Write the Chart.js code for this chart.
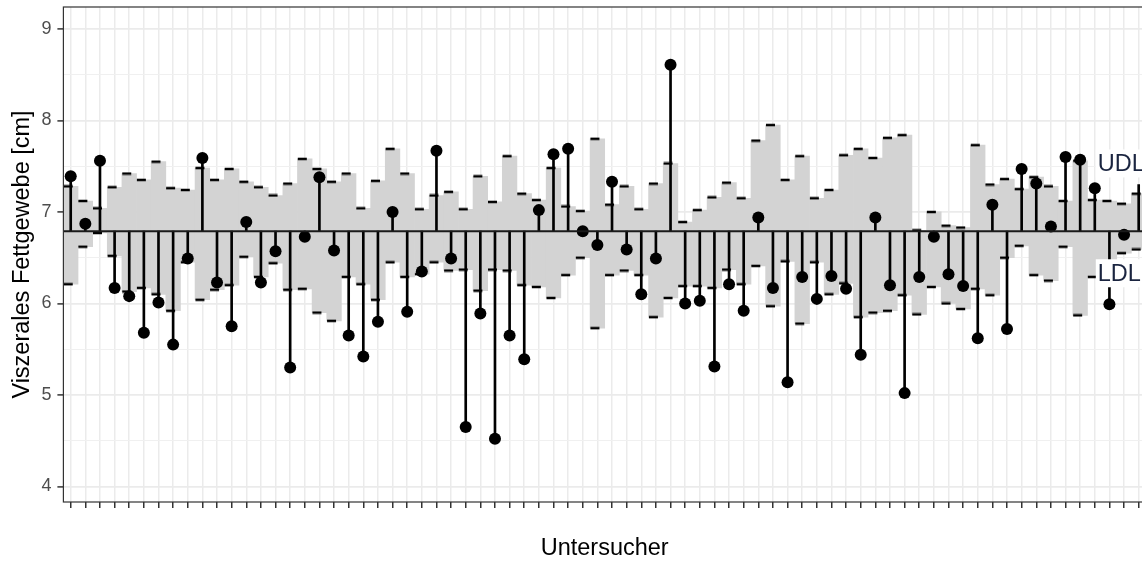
<!DOCTYPE html>
<html>
<head>
<meta charset="utf-8">
<script src="https://cdn.jsdelivr.net/npm/chart.js@4.4.1/dist/chart.umd.min.js"></script>
<style>
html, body { margin: 0; padding: 0; overflow: hidden; background: #fff; }
canvas { display: block; }
</style>
</head>
<body>
<canvas id="lollipop" width="1160" height="563"></canvas>
<script>
// one entry per Untersucher (examiner), left to right
let examiners = Array.from({length: 74}, (_, i) => 'U' + (i + 1));

let values = [7.39, 6.87, 7.56, 6.17, 6.08, 5.68, 6.01, 5.55, 6.49, 7.59,
              6.23, 5.75, 6.89, 6.23, 6.57, 5.30, 6.73, 7.38, 6.58, 5.65,
              5.42, 5.80, 7.00, 5.91, 6.35, 7.67, 6.49, 4.65, 5.89, 4.52,
              5.65, 5.39, 7.02, 7.63, 7.69, 6.79, 6.64, 7.33, 6.59, 6.10,
              6.49, 8.61, 6.00, 6.03, 5.31, 6.21, 5.92, 6.94, 6.17, 5.14,
              6.29, 6.05, 6.30, 6.16, 5.44, 6.94, 6.20, 5.02, 6.29, 6.73,
              6.32, 6.19, 5.62, 7.08, 5.72, 7.47, 7.31, 6.84, 7.60, 7.57,
              7.26, 5.99, 6.75, 7.30];

let udl = [7.28, 7.12, 7.04, 7.27, 7.42, 7.35, 7.55, 7.26, 7.24, 7.48,
           7.35, 7.47, 7.33, 7.27, 7.18, 7.31, 7.58, 7.47, 7.33, 7.42,
           7.04, 7.34, 7.69, 7.42, 7.03, 7.18, 7.22, 7.03, 7.39, 7.11,
           7.61, 7.20, 7.13, 7.48, 7.06, 7.01, 7.80, 7.08, 7.28, 7.03,
           7.31, 7.53, 6.89, 7.02, 7.16, 7.32, 7.15, 7.78, 7.95, 7.35,
           7.61, 7.15, 7.24, 7.62, 7.69, 7.59, 7.81, 7.84, 6.80, 7.00,
           6.85, 6.83, 7.73, 7.30, 7.36, 7.25, 7.38, 7.28, 7.12, 7.56,
           7.13, 7.12, 7.09, 7.20];

let ldl = [6.21, 6.62, 6.77, 6.52, 6.13, 6.17, 6.10, 5.92, 6.45, 6.04,
           6.15, 6.20, 6.51, 6.29, 6.44, 6.15, 6.16, 5.90, 5.81, 6.29,
           6.21, 6.04, 6.45, 6.29, 6.32, 6.45, 6.36, 6.37, 6.14, 6.37,
           6.36, 6.20, 6.18, 6.06, 6.31, 6.50, 5.73, 6.31, 6.36, 6.31,
           5.85, 6.06, 6.19, 6.19, 6.17, 6.37, 6.21, 6.41, 5.97, 6.46,
           5.78, 6.45, 6.10, 6.22, 5.85, 5.90, 5.92, 6.09, 5.88, 6.18,
           6.00, 5.94, 6.16, 6.09, 6.50, 6.63, 6.31, 6.25, 6.62, 5.87,
           6.29, 6.45, 6.55, 6.59];

let baseline = 6.79;
let yTicks = [4, 5, 6, 7, 8, 9];
let limitLabels = ['UDL', 'LDL'];
let limitLevels = [7.53, 6.33];
let labelAt = 70; // examiner index where the labels start

let ctx = document.getElementById('lollipop').getContext('2d');
Chart.defaults.font.family = '"Liberation Sans", Arial, sans-serif';

// little "-" marks at the limits, sitting a bit left of the stem
function makeDash() {
    let c = document.createElement('canvas');
    c.width = 20;
    c.height = 4;
    let g = c.getContext('2d');
    g.fillStyle = '#000';
    g.fillRect(3, 0.75, 9, 2.5);
    return c;
}
let dash = makeDash();

let panel = {
    id: 'panel',
    afterDatasetsDraw(chart) {
        let {ctx, chartArea: a, scales: {x, y}} = chart;
        ctx.save();
        let yb = y.getPixelForValue(baseline);
        ctx.strokeStyle = '#1a1a1a';
        ctx.lineWidth = 2;
        ctx.beginPath();
        ctx.moveTo(a.left, yb);
        ctx.lineTo(a.right, yb);
        ctx.stroke();

        ctx.font = '23.5px "Liberation Sans", Arial, sans-serif';
        ctx.textBaseline = 'middle';
        let lx = x.getPixelForValue(labelAt) + 1;
        limitLabels.forEach((txt, k) => {
            let ly = y.getPixelForValue(limitLevels[k]);
            ctx.fillStyle = '#fff';
            ctx.fillRect(lx, ly - 14, 70, 28);
            ctx.fillStyle = '#1b2540';
            ctx.fillText(txt, lx + 2, ly + 1);
        });

        ctx.strokeStyle = '#333';
        ctx.lineWidth = 1.2;
        ctx.strokeRect(a.left, a.top, a.width, a.height);
        ctx.restore();
    }
};

let isMajor = c => c.tick && yTicks.includes(c.tick.value);

let chart = new Chart(ctx, {
    type: 'bar',
    data: {
        labels: examiners,
        datasets: [
            {
                label: 'UDL-LDL',
                data: ldl.map((lo, i) => [lo, udl[i]]),
                backgroundColor: '#d3d3d3',
                borderWidth: 0,
                barPercentage: 1,
                categoryPercentage: 1,
                grouped: false,
                order: 5
            },
            {
                label: 'stem',
                data: values.map(v => [baseline, v]),
                backgroundColor: '#000',
                borderWidth: 0,
                barThickness: 2,
                grouped: false,
                order: 4
            },
            {
                type: 'line',
                label: 'UDL',
                data: udl,
                showLine: false,
                pointStyle: dash,
                pointRadius: 4,
                order: 3
            },
            {
                type: 'line',
                label: 'LDL',
                data: ldl,
                showLine: false,
                pointStyle: dash,
                pointRadius: 4,
                order: 2
            },
            {
                type: 'line',
                label: 'Wert',
                // the last examiner shows only its stem in the source
                data: values.slice(0, -1),
                showLine: false,
                pointRadius: 6,
                pointBackgroundColor: '#000',
                pointBorderWidth: 0,
                order: 1
            }
        ]
    },
    options: {
        responsive: false,
        animation: false,
        layout: {padding: {top: 7, right: 14, left: 0, bottom: 0}},
        plugins: {legend: {display: false}, tooltip: {enabled: false}},
        scales: {
            x: {
                offset: true,
                grid: {offset: false, color: '#ebebeb', lineWidth: 1.5,
                       tickLength: 6, tickColor: '#333', tickWidth: 1.5},
                border: {display: false},
                ticks: {autoSkip: false, maxRotation: 0, callback: () => ''},
                title: {display: true, text: 'Untersucher', color: '#000',
                        font: {size: 23.5}, padding: {top: 0, bottom: 0}},
                afterFit(s) { s.height = 61; s.paddingLeft = 0; s.paddingRight = 0; }
            },
            y: {
                min: 3.83,
                max: 9.24,
                grid: {
                    color: c => isMajor(c) ? '#ebebeb' : '#f0f0f0',
                    lineWidth: c => isMajor(c) ? 1.8 : 1.1,
                    tickLength: 6,
                    tickWidth: 1.5,
                    tickColor: c => isMajor(c) ? '#333' : 'rgba(0,0,0,0)'
                },
                border: {display: false},
                ticks: {stepSize: 0.5, includeBounds: false, padding: 6,
                        color: '#4d4d4d', font: {size: 18},
                        callback: v => yTicks.includes(v) ? String(v) : ''},
                title: {display: true, text: 'Viszerales Fettgewebe [cm]', color: '#000',
                        font: {size: 23.5}, padding: {top: 8, bottom: 0}},
                afterFit(s) { s.width = 63.4; s.paddingTop = 0; s.paddingBottom = 0; }
            }
        }
    },
    plugins: [panel]
});
</script>
</body>
</html>
